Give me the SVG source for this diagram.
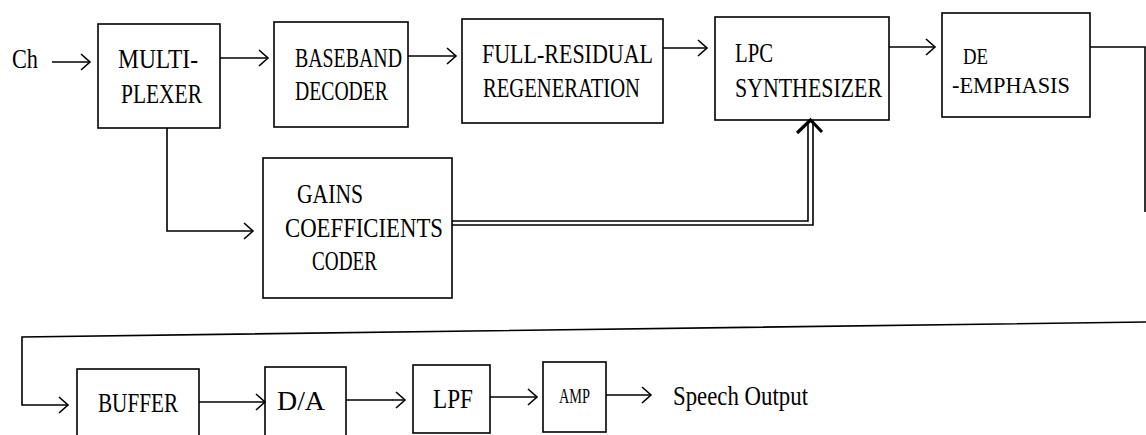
<svg xmlns="http://www.w3.org/2000/svg" width="1146" height="435" viewBox="0 0 1146 435">
<style>
.box{fill:#fff;stroke:#000;stroke-width:1.6}
.t{font-family:"Liberation Serif","DejaVu Serif",serif;font-size:27px;fill:#000}
.d{font-family:"Liberation Serif","DejaVu Serif",serif;font-size:24px;fill:#000}
.s{font-family:"Liberation Serif","DejaVu Serif",serif;font-size:22px;fill:#000}
.ln{fill:none;stroke:#000;stroke-width:1.6}
.ar{fill:none;stroke:#000;stroke-width:1.6;marker-end:url(#chev)}
</style>
<defs>
<marker id="chev" markerUnits="userSpaceOnUse" viewBox="-11 -10 13 20" refX="0" refY="0" markerWidth="13" markerHeight="20" orient="auto" overflow="visible">
<path d="M-9,-8 L0,0 L-9,8" fill="none" stroke="#000" stroke-width="1.6"/>
</marker>
</defs>
<rect width="1146" height="435" fill="#fff"/>
<g id="ch"><text class="t" x="12" y="68" textLength="26" lengthAdjust="spacingAndGlyphs">Ch</text></g>
<g id="mux"><rect class="box" x="98" y="24" width="122" height="104"/>
<text class="t" x="118" y="68" textLength="80" lengthAdjust="spacingAndGlyphs">MULTI-</text>
<text class="t" x="121" y="103" textLength="81" lengthAdjust="spacingAndGlyphs">PLEXER</text></g>
<g id="baseband"><rect class="box" x="274" y="22" width="134" height="105"/>
<text class="t" x="295" y="67" textLength="107" lengthAdjust="spacingAndGlyphs">BASEBAND</text>
<text class="t" x="295" y="100" textLength="93" lengthAdjust="spacingAndGlyphs">DECODER</text></g>
<g id="fullres"><rect class="box" x="462" y="19" width="201" height="104"/>
<text class="t" x="482" y="63" textLength="171" lengthAdjust="spacingAndGlyphs">FULL-RESIDUAL</text>
<text class="t" x="483" y="97" textLength="157" lengthAdjust="spacingAndGlyphs">REGENERATION</text></g>
<g id="lpc"><rect class="box" x="715" y="17" width="174" height="103"/>
<text class="t" x="735" y="62" textLength="38" lengthAdjust="spacingAndGlyphs">LPC</text>
<text class="t" x="735" y="97" textLength="147" lengthAdjust="spacingAndGlyphs">SYNTHESIZER</text></g>
<g id="deemph"><rect class="box" x="942" y="13" width="148" height="104"/>
<text class="d" x="963" y="64" textLength="25" lengthAdjust="spacingAndGlyphs">DE</text>
<text class="d" x="952" y="93" textLength="118" lengthAdjust="spacingAndGlyphs">-EMPHASIS</text></g>
<g id="gains"><rect class="box" x="263" y="158" width="189" height="140"/>
<text class="t" x="297" y="203" textLength="66" lengthAdjust="spacingAndGlyphs">GAINS</text>
<text class="t" x="285" y="237" textLength="158" lengthAdjust="spacingAndGlyphs">COEFFICIENTS</text>
<text class="t" x="312" y="270" textLength="65" lengthAdjust="spacingAndGlyphs">CODER</text></g>
<g id="buffer"><rect class="box" x="77" y="369" width="122" height="80"/>
<text class="t" x="98" y="412" textLength="80" lengthAdjust="spacingAndGlyphs">BUFFER</text></g>
<g id="da"><rect class="box" x="265" y="367" width="81" height="80"/>
<text class="t" x="277" y="410" textLength="48" lengthAdjust="spacingAndGlyphs">D/A</text></g>
<g id="lpf"><rect class="box" x="413" y="365" width="77" height="68"/>
<text class="t" x="433" y="408" textLength="40" lengthAdjust="spacingAndGlyphs">LPF</text></g>
<g id="amp"><rect class="box" x="543" y="362" width="63" height="70"/>
<text class="s" x="559" y="403" textLength="31" lengthAdjust="spacingAndGlyphs">AMP</text></g>
<g id="speech"><text class="t" x="673" y="405" textLength="135" lengthAdjust="spacingAndGlyphs">Speech Output</text></g>
<g id="connectors">
<line class="ar" x1="52" y1="62" x2="90" y2="62"/>
<line class="ar" x1="220" y1="58" x2="268" y2="58"/>
<line class="ar" x1="408" y1="56" x2="456" y2="56"/>
<line class="ar" x1="663" y1="48" x2="707" y2="48"/>
<line class="ar" x1="889" y1="47" x2="935" y2="47"/>
<polyline class="ln" points="1090,47 1145,47 1145,212"/>
<polyline class="ar" points="1146,322 22,337 22,405 68,405"/>
<polyline class="ar" points="167,128 167,231 253,231"/>
<polyline class="ln" points="452,221 808,221 808,121"/>
<polyline class="ln" points="452,225 813,225 813,121"/>
<polyline points="797,133 810.5,120 822,132" fill="none" stroke="#000" stroke-width="3.2"/>
<line class="ar" x1="199" y1="402" x2="265" y2="402"/>
<line class="ar" x1="346" y1="400" x2="405" y2="400"/>
<line class="ar" x1="490" y1="397" x2="537" y2="397"/>
<line class="ar" x1="606" y1="395" x2="651" y2="395"/>
</g>
</svg>
